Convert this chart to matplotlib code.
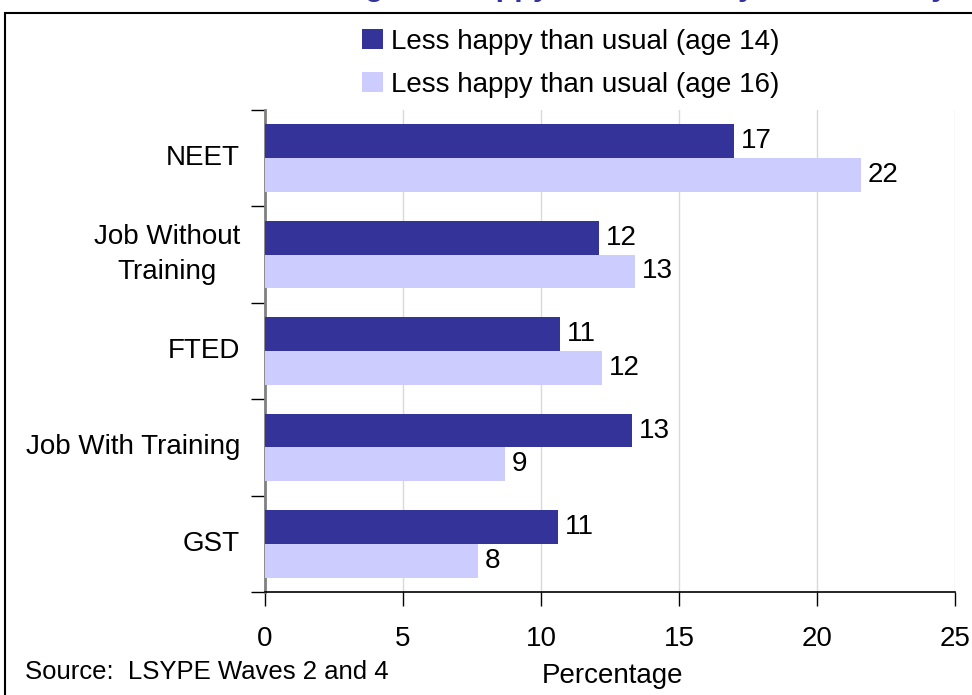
#Less happy than usual by main activity, ages 14 and 16
import numpy as np
import matplotlib
matplotlib.use('Agg')
import matplotlib.pyplot as plt
from matplotlib.patches import Rectangle

plt.rcParams['font.family'] = ['Liberation Sans', 'DejaVu Sans']

#Data (top category first)
categories = ['NEET', 'Job Without\nTraining', 'FTED', 'Job With Training', 'GST']
age14 = [17.0, 12.1, 10.7, 13.3, 10.6]
age16 = [21.6, 13.4, 12.2, 8.7, 7.7]
series_names = ['Less happy than usual (age 14)', 'Less happy than usual (age 16)']
xticks = [0, 5, 10, 15, 20, 25]

dark = '#333399'
light = '#CCCCFF'
fs = 20

W, H = 972, 695
fig = plt.figure(figsize=(W / 100, H / 100), dpi=100)
ax = fig.add_axes([265 / W, 1 - 592 / H, (955 - 265) / W, (592 - 110) / H])

n = len(categories)
pos = np.arange(n)[::-1]  # top category at top
bh = 0.35

b1 = ax.barh(pos + bh / 2, age14, height=bh, color=dark, label=series_names[0], zorder=3)
b2 = ax.barh(pos - bh / 2, age16, height=bh, color=light, label=series_names[1], zorder=3)

for bars, vals in ((b1, age14), (b2, age16)):
    for b, v in zip(bars, vals):
        ax.text(v + 0.25, b.get_y() + b.get_height() / 2, f'{round(v):d}',
                va='center', ha='left', fontsize=fs, zorder=4)

ax.set_xlim(0, 25)
ax.set_ylim(-0.5, n - 0.5)
ax.set_xticks(xticks)
ax.set_xticklabels([str(t) for t in xticks], fontsize=fs)
ax.tick_params(axis='x', direction='out', length=10, width=1, pad=14.5, colors='black')

# category labels centered in bands, ticks at band edges
ax.set_yticks(np.arange(-0.5, n, 1.0))
ax.set_yticklabels([])
ax.tick_params(axis='y', direction='out', length=10, width=1)
for p, c in zip(pos, categories):
    ax.text(-0.9, p, c, ha='right', va='center', fontsize=fs, linespacing=1.45,
            multialignment='center', transform=ax.transData)

ax.grid(axis='x', color='#d9d9d9', linewidth=1, zorder=0)
for s in ('top', 'right'):
    ax.spines[s].set_visible(False)
ax.spines['left'].set_color('#808080')
ax.spines['left'].set_linewidth(2)
ax.spines['bottom'].set_color('black')
ax.spines['bottom'].set_linewidth(1.2)

ax.set_xlabel('Percentage', fontsize=fs)
ax.xaxis.label.set_va('center')
ax.xaxis.set_label_coords((612 - 265) / (955 - 265), -(676 - 592) / (592 - 110))

fig.legend(handles=[b1, b2], loc='upper left', bbox_to_anchor=(362 / W, 1 - 29 / H),
           frameon=False, fontsize=fs, handlelength=0.75, handleheight=0.75,
           handletextpad=0.3, labelspacing=0.6, borderaxespad=0, borderpad=0)

fig.text(25 / W, 1 - 672 / H, 'Source:  LSYPE Waves 2 and 4', fontsize=18.5, va='center')

# outer frame (runs off the right and bottom edges)
fig.patches.append(Rectangle((5 / W, -0.05), 1.0, 1 - 13 / H + 0.05, transform=fig.transFigure,
                             fill=False, edgecolor='black', linewidth=1.5))

# title, mostly cut off at the top of the picture
fig.text(613 / W, 1 + 5 / H, 'Feeling less happy than usual by main activity',
         fontsize=22, fontweight='bold', color=dark, ha='center', va='baseline')

fig.savefig('out.png', dpi=100)
